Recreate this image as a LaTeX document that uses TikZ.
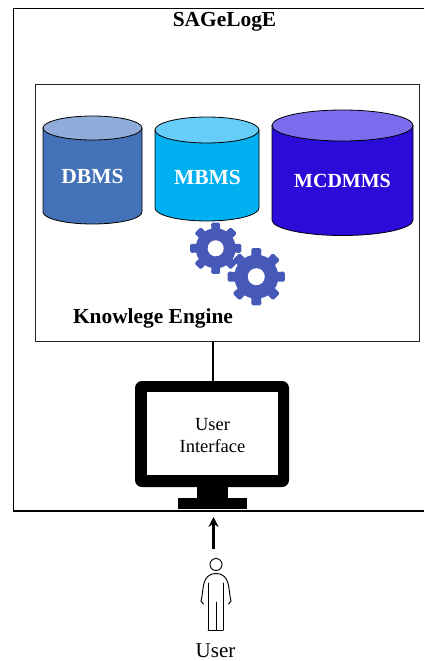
\documentclass[tikz,border=0pt]{standalone}
\usepackage{fontspec}
\usetikzlibrary{arrows.meta}
\setmainfont{Liberation Serif}
\definecolor{gearblue}{HTML}{4658B8}
\definecolor{dbside}{HTML}{4472B8}
\definecolor{dbtop}{HTML}{8FACDB}
\definecolor{mbside}{HTML}{00B0F0}
\definecolor{mbtop}{HTML}{66CCF8}
\definecolor{mcside}{HTML}{2A0BD8}
\definecolor{mctop}{HTML}{7B6CEE}
\tikzset{
  boxline/.style={draw=black!85, line width=1pt},
  heavyline/.style={draw=black, line width=2.3pt},
  dbtext/.style={text=white, font=\bfseries\fontsize{21.5}{24}\selectfont, inner sep=0pt},
  bodytext/.style={text=black, font=\fontsize{18.5}{22}\selectfont, align=center, inner sep=0pt},
  titletext/.style={text=black, font=\bfseries\fontsize{21.4}{24}\selectfont, inner sep=0pt},
  personline/.style={draw=black, line width=0.95pt, line cap=round, line join=round},
}
% #1 left x, #2 right x, #3 ellipse centre y, #4 ry, #5 side end y, #6 side colour, #7 top colour
\newcommand{\dbdrum}[7]{%
  \pgfmathsetmacro{\rxx}{(#2-#1)/2}%
  \draw[fill=#6, draw=black, line width=0.8pt] (#1,#3) -- (#1,#5) arc[start angle=180,end angle=360,x radius=\rxx,y radius=-#4] -- (#2,#3) -- cycle;
  \draw[fill=#7, draw=black, line width=0.8pt] ({(#1+#2)/2},#3) ellipse[x radius=\rxx, y radius=#4];
}
% #1 x, #2 y, #3 outer r, #4 root r, #5 hole r
\newcommand{\cogwheel}[5]{%
  \fill[gearblue] (#1,#2) circle[radius=#4];
  \foreach \a in {0,45,...,315}{
    \fill[gearblue, rounded corners=1.5pt]
      ([shift={(\a-14:#4-2)}]#1,#2) -- ([shift={(\a-10:#3)}]#1,#2)
      -- ([shift={(\a+10:#3)}]#1,#2) -- ([shift={(\a+14:#4-2)}]#1,#2) -- cycle;
  }
  \fill[white] (#1,#2) circle[radius=#5];
}
\begin{document}
\begin{tikzpicture}[x=1pt,y=-1pt]
\useasboundingbox (0,0) rectangle (424,661);
% outer frame, open at the right edge
\draw[draw=black, line width=1.8pt] (424,8.5) -- (13.5,8.5) -- (13.5,511) -- (424,511);
\node[titletext] (title) at (224.5,22) {SAGeLogE};
% knowledge engine
\node[boxline, fill=white, minimum width=384pt, minimum height=256.5pt, inner sep=0pt, anchor=north west] (engine) at (35,84.3) {};
\dbdrum{43}{142}{128}{12}{212}{dbside}{dbtop}
\dbdrum{155}{259}{130}{13}{208}{mbside}{mbtop}
\dbdrum{272}{413}{125.5}{15.5}{220}{mcside}{mctop}
\node[dbtext] (dbms) at (92.5,176.5) {DBMS};
\node[dbtext] (mbms) at (207.5,177) {MBMS};
\node[dbtext, font=\bfseries\fontsize{20}{22}\selectfont] (mcdmms) at (342.5,181) {MCDMMS};
\cogwheel{215.7}{248.3}{26}{20}{8}
\cogwheel{256.3}{276.7}{29}{22}{8.5}
\node[titletext] (knowledge) at (153,318) {Knowlege Engine};
% monitor
\fill[black] (197,485) rectangle (228,500);
\node[fill=black, minimum width=69pt, minimum height=11pt, inner sep=0pt] (base) at (212.5,503.5) {};
\node[fill=black, rounded corners=7pt, minimum width=154pt, minimum height=106pt, inner sep=0pt] (monitor) at (212,434) {};
\node[fill=white, minimum width=131pt, minimum height=83pt, inner sep=0pt] (screen) at (212.5,433.5) {};
\node[bodytext] (ui) at (212.5,435.5) {User\\Interface};
\draw[heavyline] ([xshift=1pt]monitor.north |- engine.south) -- ([xshift=1pt]monitor.north);
% user
\coordinate (arrowstart) at (213.5,549);
\coordinate (arrowend) at (213.5,517);
\draw[heavyline, -{Stealth[length=10pt,width=10pt]}] (arrowstart) -- (arrowend);
\draw[personline] (216,564.5) circle[radius=6];
\draw[personline] (208,630) -- (208,583) (223,630) -- (223,583) (208,630) -- (223,630) (216,630) -- (216,602);
\draw[personline] (201,601) .. controls (204,590) and (201,574) .. (216,573.5) .. controls (231,574) and (228,590) .. (231,601);
\draw[personline] (201,601) -- (203.5,604) (231,601) -- (228.5,604);
\node[bodytext, font=\fontsize{21}{24}\selectfont] (user) at (215.5,651) {User};
\end{tikzpicture}
\end{document}
